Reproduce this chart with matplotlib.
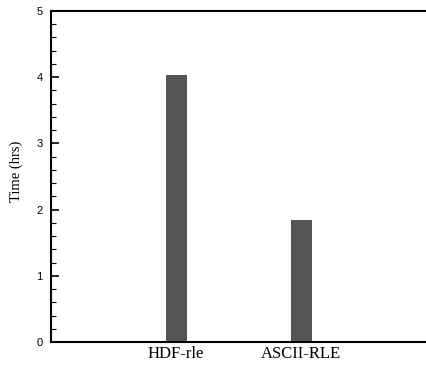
import matplotlib
matplotlib.use("Agg")
import matplotlib.pyplot as plt
from matplotlib.ticker import MultipleLocator

categories = ["HDF-rle", "ASCII-RLE"]
values = [4.03, 1.84]
positions = [1, 2]

fig = plt.figure(figsize=(4.27, 3.65), dpi=100)
ax = fig.add_axes([51/427, 1-342/365, 1-51/427 - 0.001, (342-11)/365])
ax.bar(positions, values, width=0.167, color="#555555")
ax.set_xlim(0, 3)
ax.set_ylim(0, 5)
ax.set_xticks(positions)
ax.set_xticklabels(categories, family="Liberation Serif", fontsize=12)
ax.tick_params(axis="x", length=0, pad=3)
ax.yaxis.set_major_locator(MultipleLocator(1))
ax.yaxis.set_minor_locator(MultipleLocator(0.2))
ax.tick_params(axis="y", which="major", direction="in", length=6, width=1.2, pad=6, labelsize=8)
ax.tick_params(axis="y", which="minor", direction="in", length=3.5, width=0.8)
for lab in ax.get_yticklabels():
    lab.set_family("Liberation Sans")
ax.set_ylabel("Time (hrs)", family="Liberation Serif", fontsize=10.5)
ax.yaxis.set_label_coords(-28/376, 0.515)
ax.spines["right"].set_visible(False)
for s in ["left", "top", "bottom"]:
    ax.spines[s].set_linewidth(1.5)
fig.savefig("out.png", dpi=100)
